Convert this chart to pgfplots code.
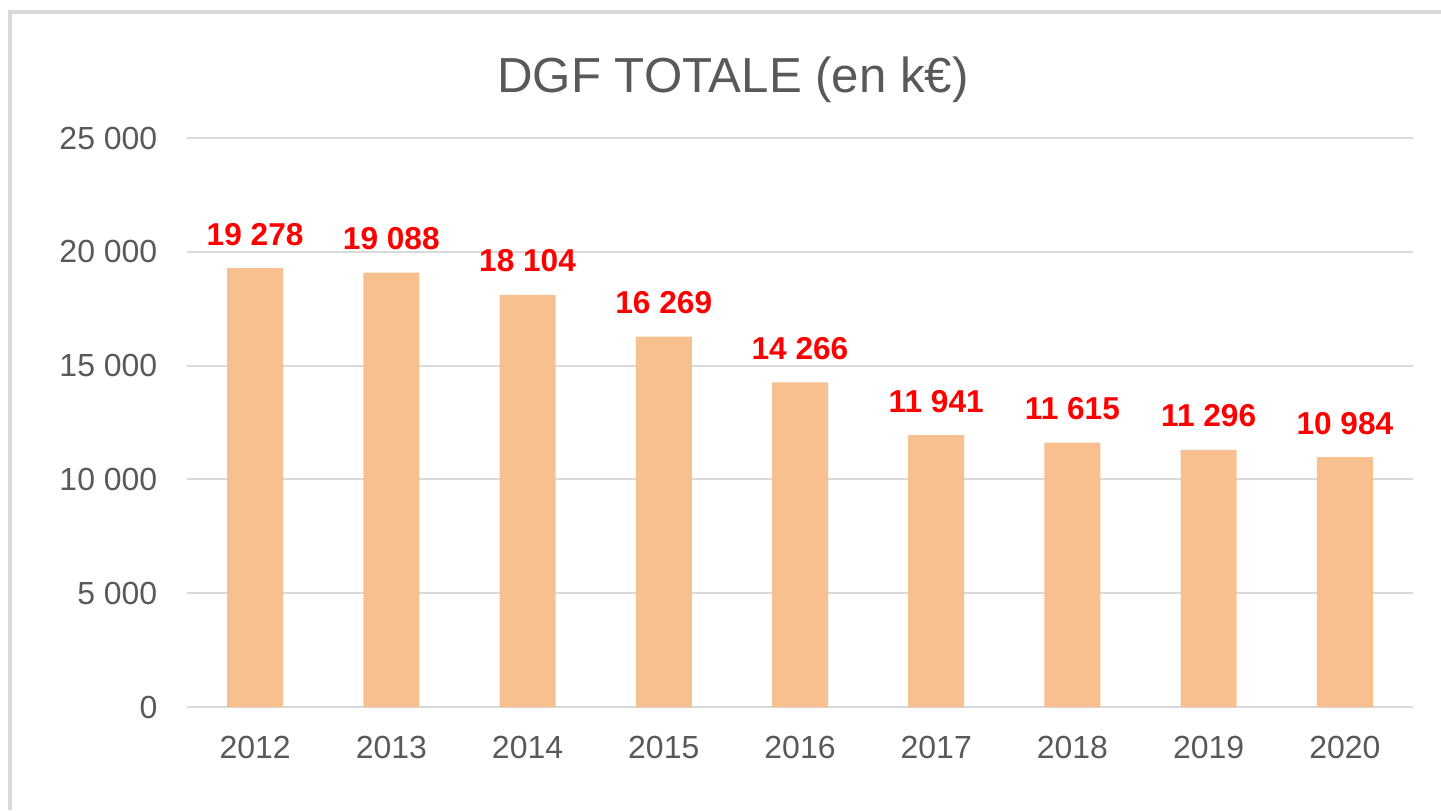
\documentclass[border=0pt]{standalone}
\usepackage{fontspec}
\setmainfont{Liberation Sans}
\usepackage{pgfplots}
\pgfplotsset{compat=1.18}

\definecolor{barfill}{HTML}{F8C08F}
\definecolor{txtgray}{HTML}{595959}
\definecolor{gridgray}{HTML}{D9D9D9}

\pgfkeys{/pgf/number format/.cd, fixed, precision=0, 1000 sep={\ }, assume math mode=true}

\begin{document}
\begin{tikzpicture}
\path[use as bounding box] (0,0) rectangle (14.41,8.10);
\draw[gridgray, line width=0.9pt] (0.10,0) -- (0.10,7.98) -- (14.41,7.98);
\node[txtgray, font=\fontsize{14}{14}\selectfont, anchor=base] at (7.33,7.18) {DGF TOTALE (en k€)};

\begin{axis}[
  at={(1.87cm,1.03cm)}, anchor=south west,
  scale only axis,
  width=12.26cm, height=5.69cm,
  ybar, bar width=0.56cm,
  xmin=-0.5, xmax=8.5,
  ymin=0, ymax=25000,
  xtick=data,
  xticklabels={2012,2013,2014,2015,2016,2017,2018,2019,2020},
  ytick={0,5000,10000,15000,20000,25000},
  scaled y ticks=false,
  axis line style={draw=none},
  major tick length=0pt,
  ymajorgrids,
  grid style={gridgray, line width=0.6pt},
  tick label style={txtgray, font=\fontsize{9.1}{9.1}\selectfont},
  yticklabel style={anchor=east, inner sep=0pt, xshift=-0.29cm},
  xticklabel style={anchor=north, inner sep=0pt, yshift=-0.28cm},
  nodes near coords={\pgfmathprintnumber{\pgfplotspointmeta}},
  point meta=y,
  every node near coord/.append style={red, font=\bfseries\fontsize{9}{9}\selectfont, anchor=south, inner sep=0pt, yshift=0.22cm},
]
\addplot[fill=barfill, draw=none] coordinates {
  (0,19278) (1,19088) (2,18104) (3,16269) (4,14266)
  (5,11941) (6,11615) (7,11296) (8,10984)
};
\end{axis}
\end{tikzpicture}
\end{document}
